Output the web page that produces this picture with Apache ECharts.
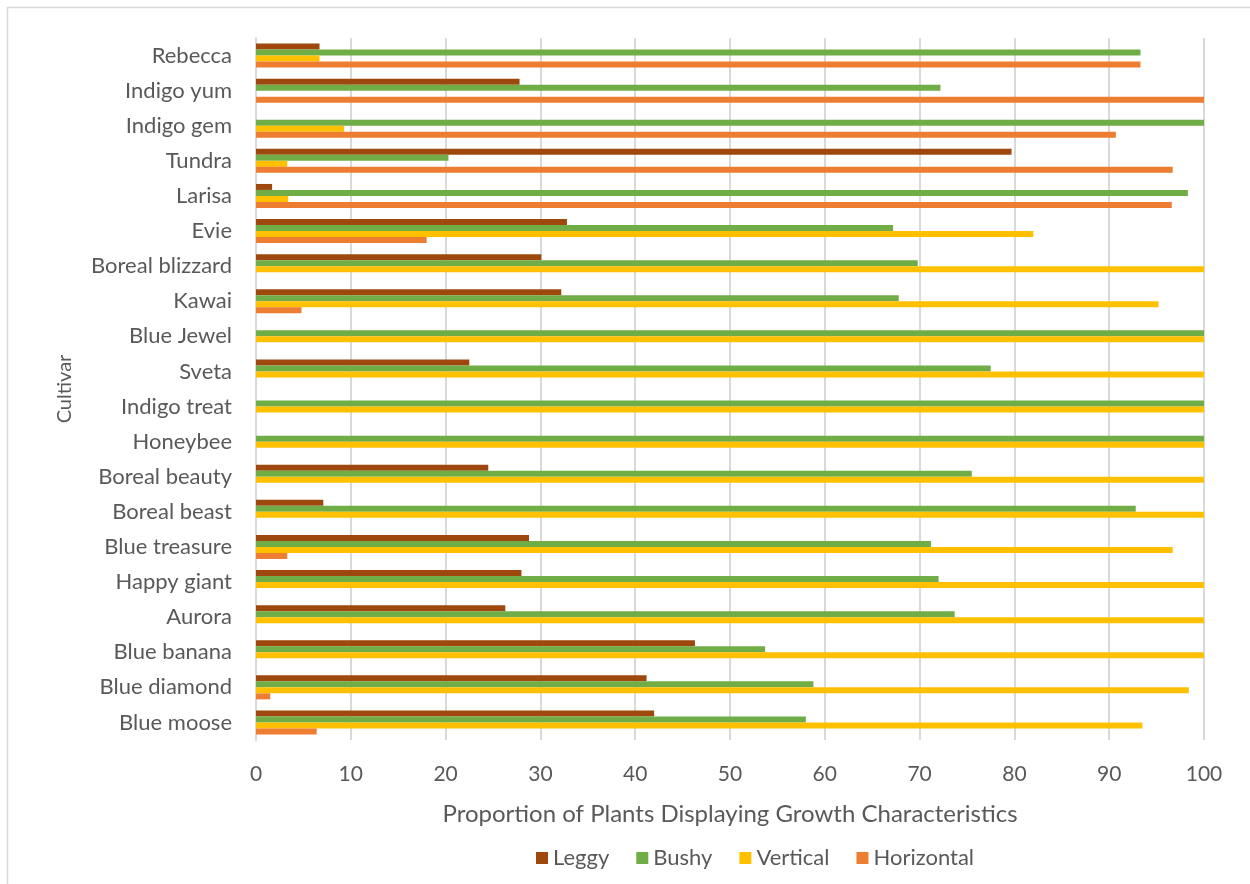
<!DOCTYPE html>
<html>
<head>
<meta charset="utf-8">
<script src="https://cdn.jsdelivr.net/npm/echarts@6/dist/echarts.min.js"></script>
<style>
html,body{margin:0;padding:0;background:#fff;overflow:hidden;}
#chart{width:1250px;height:884px;}
</style>
</head>
<body>
<div id="chart"></div>
<script>
// Categories listed top to bottom as they appear
const categories = ["Rebecca","Indigo yum","Indigo gem","Tundra","Larisa","Evie","Boreal blizzard","Kawai","Blue Jewel","Sveta","Indigo treat","Honeybee","Boreal beauty","Boreal beast","Blue treasure","Happy giant","Aurora","Blue banana","Blue diamond","Blue moose"];
const leggy      = [6.7, 27.8, 0, 79.7, 1.7, 32.8, 30.1, 32.2, 0, 22.5, 0, 0, 24.5, 7.1, 28.8, 28.0, 26.3, 46.3, 41.2, 42.0];
const bushy      = [93.3, 72.2, 100, 20.3, 98.3, 67.2, 69.8, 67.8, 100, 77.5, 100, 100, 75.5, 92.8, 71.2, 72.0, 73.7, 53.7, 58.8, 58.0];
const vertical   = [6.7, 0, 9.3, 3.3, 3.4, 82.0, 100, 95.2, 100, 100, 100, 100, 100, 100, 96.7, 100, 100, 100, 98.4, 93.5];
const horizontal = [93.3, 100, 90.7, 96.7, 96.6, 18.0, 0, 4.8, 0, 0, 0, 0, 0, 0, 3.3, 0, 0, 0, 1.5, 6.4];
const xTicks = [0,10,20,30,40,50,60,70,80,90,100];

const FONT = 'Lato';
const chart = echarts.init(document.getElementById('chart'), null, {renderer:'canvas'});
const mk = (name, data, color) => ({
  name, type:'bar', data, barWidth:6, barGap:'0%',
  itemStyle:{color}, emphasis:{disabled:true}
});
chart.setOption({
  animation:false,
  textStyle:{fontFamily:FONT},
  graphic:[{type:'rect', shape:{x:7.5,y:7.5,width:1400,height:1000}, style:{fill:'none', stroke:'#d9d9d9', lineWidth:1.5}, silent:true}],
  grid:{left:256, right:46, top:38, bottom:144, containLabel:false},
  legend:{
    data:['Leggy','Bushy','Vertical','Horizontal'],
    left:531, top:842, itemWidth:12, itemHeight:12, itemGap:27,
    icon:'rect',
    textStyle:{fontFamily:FONT, fontSize:22, color:'#595959', padding:[0,0,0,0]}
  },
  xAxis:{
    type:'value', min:0, max:100, interval:10,
    axisLine:{show:false}, axisTick:{show:false},
    axisLabel:{fontFamily:FONT, fontSize:21, color:'#595959', margin:24,
      formatter:(v)=> xTicks.includes(v) ? String(v) : ''},
    splitLine:{lineStyle:{color:'#d9d9d9', width:2}},
    name:'Proportion of Plants Displaying Growth Characteristics',
    nameLocation:'middle', nameGap:62,
    nameTextStyle:{fontFamily:FONT, fontSize:24, color:'#595959'}
  },
  yAxis:{
    type:'category', data:categories, inverse:true,
    axisLine:{show:true, lineStyle:{color:'#d9d9d9', width:2}},
    axisTick:{show:false},
    axisLabel:{fontFamily:FONT, fontSize:22, color:'#595959', margin:24},
    name:'Cultivar', nameLocation:'middle', nameGap:181, nameRotate:90,
    nameTextStyle:{fontFamily:FONT, fontSize:20, color:'#595959'}
  },
  series:[
    mk('Leggy', leggy, '#9E480E'),
    mk('Bushy', bushy, '#70AD47'),
    mk('Vertical', vertical, '#FFC000'),
    mk('Horizontal', horizontal, '#ED7D31')
  ]
});
</script>
</body>
</html>
